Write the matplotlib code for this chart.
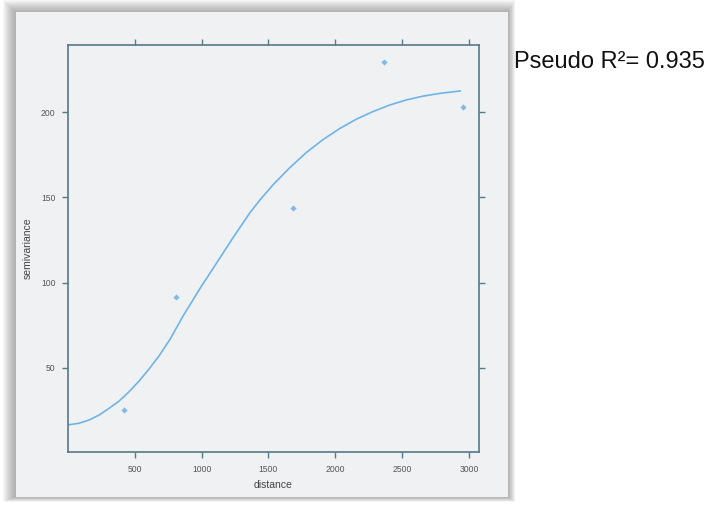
import matplotlib.pyplot as plt
from matplotlib.patches import Rectangle

# Points du semi-variogramme empirique
distance = [420, 807, 1680, 2364, 2953]
semivariance = [25.3, 91.5, 144.0, 229.3, 203.3]

# Courbe du modele ajuste
courbe_distance = [8, 83, 158, 233, 308, 382, 457, 532, 607, 682, 762, 862, 987,
                   1112, 1236, 1361, 1436, 1535, 1660, 1785, 1909, 2034, 2159,
                   2284, 2409, 2534, 2658, 2783, 2933]
courbe_semivariance = [16.5, 17.4, 19.3, 22.2, 26.2, 30.4, 35.9, 42.2, 49.3, 57.0,
                       66.5, 80.5, 96.5, 111.5, 126.5, 141.0, 148.5, 157.5, 167.5,
                       176.5, 184.0, 190.5, 196.0, 200.5, 204.3, 207.3, 209.5,
                       211.1, 212.5]

x_ticks = [500, 1000, 1500, 2000, 2500, 3000]
y_ticks = [50, 100, 150, 200]
r2_text = "Pseudo R²= 0.935"

plt.rcParams['font.family'] = ['Liberation Sans', 'DejaVu Sans']

W, H = 706, 505
fig = plt.figure(figsize=(W / 100, H / 100), dpi=100)
fig.patch.set_facecolor('white')

# Ombre + panneau gris (effet capture d'ecran)
px0, py0, px1, py1 = 16, 12, 508, 497
for i in range(12, 0, -1):
    fig.patches.append(Rectangle(((px0 - i - 1) / W, 1 - (py1 + i * 0.4) / H),
                                 (px1 - px0 + 1.6 * i + 1) / W, (py1 - py0 + i * 1.4) / H,
                                 transform=fig.transFigure, facecolor='#505050',
                                 alpha=0.045, edgecolor='none', zorder=0))
fig.patches.append(Rectangle((px0 / W, 1 - py1 / H), (px1 - px0) / W, (py1 - py0) / H,
                             transform=fig.transFigure, facecolor='#eff1f3',
                             edgecolor='none', zorder=1))

ax = fig.add_axes([68 / W, 1 - 452 / H, (479 - 68) / W, (452 - 45) / H])
ax.set_facecolor('#eff1f3')
ax.set_zorder(2)

ax.plot(courbe_distance, courbe_semivariance, color='#6fb4e8', lw=1.2)
ax.scatter(distance, semivariance, color='#7fbbe9', s=10, marker='D', linewidths=0)

ax.set_xlim(0, 3075)
ax.set_ylim(0.5, 239.5)
ax.set_xticks(x_ticks)
ax.set_yticks(y_ticks)

spine_col = '#557a88'
for s in ax.spines.values():
    s.set_color(spine_col)
    s.set_linewidth(1.2)
ax.tick_params(which='both', direction='out', length=4, width=1, color=spine_col,
               labelsize=6.2, labelcolor='#555555', top=True, right=True, pad=5)

ax.set_xlabel("distance", fontsize=7.5, color='#444444', labelpad=5)
ax.set_ylabel("semivariance", fontsize=7.5, color='#444444', labelpad=6)

fig.text(514 / W, 1 - 62 / H, r2_text, fontsize=17, color='#111111', va='center', ha='left')

fig.savefig("out.png", dpi=100)
